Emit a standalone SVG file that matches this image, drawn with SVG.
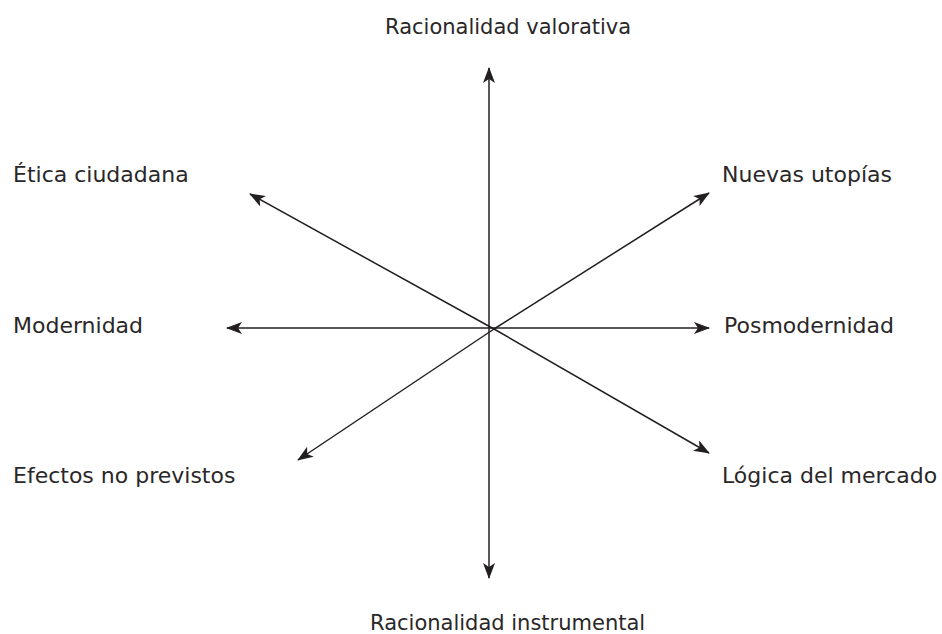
<svg xmlns="http://www.w3.org/2000/svg" width="942" height="634" viewBox="0 0 942 634">
<style>
text{font-family:"DejaVu Sans","Lato","Liberation Sans",sans-serif;font-size:22px;fill:#2a2728}
text.v{font-size:21px}
.c line{stroke:#231f20;stroke-width:1.5;marker-end:url(#ah)}
</style>
<defs>
<marker id="ah" viewBox="0 0 16 12" refX="15" refY="6" markerWidth="16" markerHeight="12" markerUnits="userSpaceOnUse" orient="auto">
<path d="M0,0 L16,6 L0,12 L4,6 Z" fill="#231f20"/>
</marker>
</defs>
<rect width="942" height="634" fill="#fff"/>
<g id="n1"><text class="v" x="385" y="34">Racionalidad valorativa</text></g>
<g id="n2"><text x="13" y="182">Ética ciudadana</text></g>
<g id="n3"><text x="722" y="182">Nuevas utopías</text></g>
<g id="n4"><text x="13" y="333">Modernidad</text></g>
<g id="n5"><text x="724" y="333">Posmodernidad</text></g>
<g id="n6"><text x="13" y="483">Efectos no previstos</text></g>
<g id="n7"><text x="722" y="483">Lógica del mercado</text></g>
<g id="n8"><text class="v" x="370" y="630">Racionalidad instrumental</text></g>
<g class="c" id="connectors">
<line x1="489" y1="328" x2="489" y2="68"/>
<line x1="489" y1="328" x2="489" y2="578"/>
<line x1="489" y1="328" x2="227" y2="328"/>
<line x1="489" y1="328" x2="709" y2="328"/>
<line x1="494" y1="329" x2="250" y2="194"/>
<line x1="494" y1="329" x2="709" y2="193"/>
<line x1="494" y1="329" x2="298" y2="460"/>
<line x1="494" y1="329" x2="709" y2="453"/>
</g>
</svg>
